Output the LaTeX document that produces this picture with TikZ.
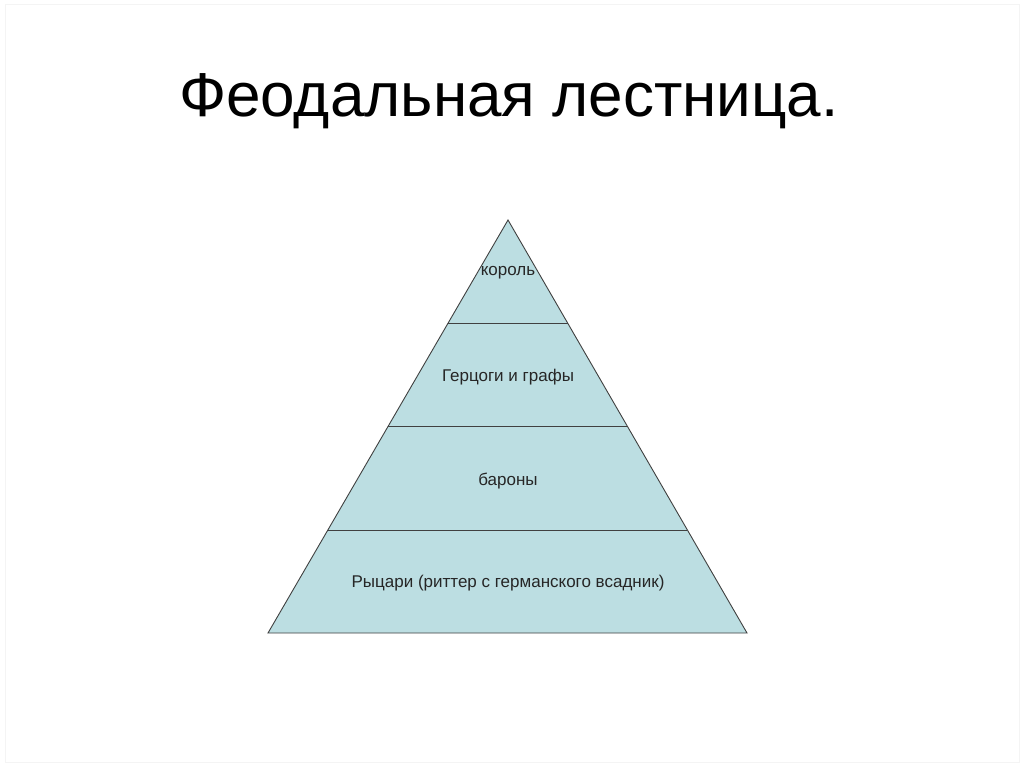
\documentclass[tikz,border=0pt]{standalone}
\usepackage{fontspec}
\setmainfont{Liberation Sans}
\usetikzlibrary{calc}
\definecolor{pyrfill}{RGB}{188,222,226}
\definecolor{frameline}{RGB}{244,244,244}
\begin{document}
\begin{tikzpicture}[x=1pt,y=-1pt,
  lvl/.style={font=\fontsize{17}{20}\selectfont, text=black!85, anchor=center},
  edge/.style={draw=black!75, line width=0.9pt}]
\useasboundingbox (0,0) rectangle (1024,767);
\fill[white] (0,0) rectangle (1024,767);
\draw[frameline, line width=1pt] (5,5) rectangle (1019,762);
\node[font=\fontsize{62}{68}\selectfont, anchor=base] (title) at (509,117) {Феодальная лестница.};
\coordinate (apex) at (508,220);
\coordinate (bl) at (268,633);
\coordinate (br) at (747,633);
\fill[pyrfill] (apex) -- (br) -- (bl) -- cycle;
\coordinate (l1) at ($(apex)!0.2494!(bl)$);
\coordinate (r1) at ($(apex)!0.2494!(br)$);
\coordinate (l2) at ($(apex)!0.4988!(bl)$);
\coordinate (r2) at ($(apex)!0.4988!(br)$);
\coordinate (l3) at ($(apex)!0.7506!(bl)$);
\coordinate (r3) at ($(apex)!0.7506!(br)$);
\draw[edge] (l1) -- (r1);
\draw[edge] (l2) -- (r2);
\draw[edge] (l3) -- (r3);
\draw[edge, line join=miter] (apex) -- (br) -- (bl) -- cycle;
\node[lvl] (k) at (508,273) {король};
\node[lvl] (g) at (508,377) {Герцоги и графы};
\node[lvl] (b) at (508,481) {бароны};
\node[lvl] (r) at (508,583) {Рыцари (риттер с германского всадник)};
\end{tikzpicture}
\end{document}
